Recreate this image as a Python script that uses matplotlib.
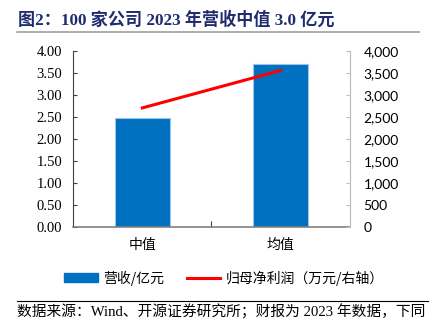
import matplotlib
matplotlib.use("Agg")
import matplotlib.pyplot as plt
from matplotlib.patches import Patch
from matplotlib.lines import Line2D
from matplotlib.ticker import FuncFormatter

categories = ["中值", "均值"]
revenue = [2.46, 3.70]          # 营收，亿元
net_profit = [2700, 3550]       # 归母净利润，万元
left_ticks = [0, 0.5, 1.0, 1.5, 2.0, 2.5, 3.0, 3.5, 4.0]
right_ticks = [0, 500, 1000, 1500, 2000, 2500, 3000, 3500, 4000]

title = "图2：100 家公司 2023 年营收中值 3.0 亿元"
source = "数据来源：Wind、开源证券研究所；财报为 2023 年数据，下同"

W, H = 436, 336
fig = plt.figure(figsize=(W / 100, H / 100), dpi=100)

cjk_serif = ["Liberation Serif", "Noto Sans CJK SC"]
cjk = ["Noto Sans CJK SC", "DejaVu Sans"]

ax = fig.add_axes([73.3 / W, 1 - 226.7 / H, (349.5 - 73.3) / W, (226.7 - 50.7) / H])
x = list(range(len(categories)))
ax.bar(x, revenue, width=0.4, color="#0070C0", edgecolor="#9DC3E6", linewidth=0.8, zorder=2)
ax.set_xlim(-0.5, 1.5)
ax.set_ylim(0, 4)
ax.set_yticks(left_ticks)
ax.yaxis.set_major_formatter(FuncFormatter(lambda v, p: f"{v:.2f}"))
ax.set_xticks([0.5])
ax.set_xticklabels([""])
ax.tick_params(axis="x", direction="in", length=4, color="#404040")
ax.tick_params(axis="y", direction="in", length=3, color="#404040", pad=8, labelsize=10.5)
for lab in ax.get_yticklabels():
    lab.set_fontfamily("Liberation Serif")
for i, c in enumerate(categories):
    ax.text(i, -0.42, c, ha="center", va="center", fontsize=10, family=cjk)

ax.spines["top"].set_visible(False)
ax.spines["left"].set_color("#404040")
ax.spines["bottom"].set_color("#808080")
ax.spines["bottom"].set_linewidth(1.2)
ax.spines["right"].set_color("#BFBFBF")

ax2 = ax.twinx()
ax2.plot(x, net_profit, color="#FF0000", linewidth=2.2, zorder=3)
ax2.set_ylim(0, 4000)
ax2.set_yticks(right_ticks)
ax2.yaxis.set_major_formatter(FuncFormatter(lambda v, p: f"{int(v):,}"))
ax2.tick_params(axis="y", direction="in", length=3, color="#BFBFBF", pad=10, labelsize=10)
for lab in ax2.get_yticklabels():
    lab.set_fontfamily("Lato")
for s in ["top", "left", "bottom"]:
    ax2.spines[s].set_visible(False)
ax2.spines["right"].set_color("#BFBFBF")

# title
fig.text(18 / W, 1 - 20 / H, title, ha="left", va="center", fontsize=12.3,
         fontweight="bold", color="#1F2C6E", family=cjk_serif)
fig.add_artist(Line2D([17 / W, 419 / W], [1 - 32 / H, 1 - 32 / H], color="#A0A0A0", linewidth=1.2))

# legend
handles = [Patch(facecolor="#0070C0", edgecolor="#0070C0"),
           Line2D([0], [0], color="#FF0000", linewidth=2.2)]
labels = ["营收/亿元", "归母净利润（万元/右轴）"]
leg = fig.legend(handles, labels, loc="center", bbox_to_anchor=(224 / W, 1 - 278 / H), ncol=2,
                 frameon=False, prop={"family": cjk, "size": 10}, handlelength=2.4,
                 handleheight=0.6, columnspacing=1.6, handletextpad=0.4)

# source
fig.add_artist(Line2D([17 / W, 428 / W], [1 - 301 / H, 1 - 301 / H], color="#000000", linewidth=0.8))
fig.text(17 / W, 1 - 312 / H, source, ha="left", va="center", fontsize=10.6, family=cjk_serif)

fig.savefig("out.png", dpi=100)
